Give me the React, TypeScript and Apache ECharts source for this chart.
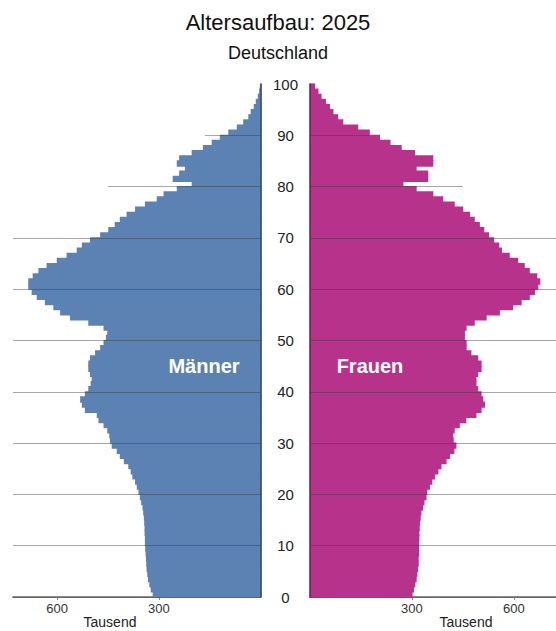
import React, { useEffect, useRef } from "react";
import * as echarts from "echarts";

// Age in years (lower bound of each one-year bar)
const AGES: number[] = Array.from({ length: 100 }, (_, i) => i);

// Population by single year of age, in thousands
const MEN: number[] = [
  318, 324, 328, 332, 334, 336, 337, 338, 339, 340,
  341, 341, 342, 342, 343, 344, 346, 348, 352, 356,
  360, 365, 370, 378, 383, 390, 403, 415, 424, 439,
  444, 446, 452, 463, 478, 483, 518, 527, 532, 518,
  508, 501, 498, 503, 508, 508, 503, 488, 473, 463,
  456, 452, 463, 508, 562, 591, 611, 636, 660, 675,
  685, 685, 672, 655, 631, 601, 572, 542, 527, 503,
  473, 449, 430, 415, 395, 370, 341, 306, 286, 247,
  203, 259, 240, 223, 247, 240, 203, 170, 144, 120,
  95, 70, 51, 36, 29, 20, 14, 8, 4, 2,
];

const WOMEN: number[] = [
  302, 306, 310, 314, 316, 318, 320, 320, 321, 321,
  321, 322, 322, 323, 324, 326, 328, 333, 337, 343,
  345, 353, 360, 368, 378, 387, 402, 412, 425, 431,
  423, 421, 426, 441, 460, 490, 505, 515, 510, 505,
  495, 490, 490, 495, 505, 505, 495, 475, 461, 461,
  456, 456, 461, 485, 520, 559, 598, 623, 647, 662,
  672, 678, 669, 647, 632, 613, 588, 565, 557, 542,
  527, 513, 500, 485, 471, 451, 426, 392, 363, 314,
  275, 348, 348, 314, 363, 363, 309, 270, 237, 206,
  176, 142, 98, 83, 69, 59, 47, 34, 25, 15,
];

// Axis ticks
const AGE_TICKS = { min: 0, max: 100, interval: 10 };
const VALUE_TICK_INTERVAL = 300;
const FULL_GRID_AGES: number[] = [0, 10, 20, 30, 40, 50, 60, 70];

const TITLE = "Altersaufbau: 2025";
const SUBTITLE = "Deutschland";
const UNIT = "Tausend";

const BLUE = "#5b82b2";
const MAGENTA = "#b7338b";
const FONT = "Liberation Sans, Arial, sans-serif";

function barRenderer(color: string) {
  return (params: any, api: any) => {
    const v = api.value(0);
    const age = api.value(1);
    const p0 = api.coord([0, age]);
    const p1 = api.coord([v, age + 1]);
    const x = Math.min(p0[0], p1[0]);
    const y = Math.min(p0[1], p1[1]);
    return {
      type: "rect",
      shape: {
        x,
        y: y - 0.6,
        width: Math.abs(p1[0] - p0[0]),
        height: Math.abs(p1[1] - p0[1]) + 1.2,
      },
      style: { fill: color, stroke: null },
    };
  };
}

const gridLineStyle = { color: "rgba(60,60,60,0.45)", width: 1.2, type: "solid" as const };

function markLines(partial: [number, number][]) {
  return {
    silent: true,
    symbol: ["none", "none"],
    label: { show: false },
    lineStyle: gridLineStyle,
    animation: false,
    data: [
      ...FULL_GRID_AGES.map((a) => ({ yAxis: a })),
      ...partial.map(([age, len]) => [
        { coord: [0, age] },
        { coord: [len, age] },
      ]),
    ],
  };
}

export default function App() {
  const ref = useRef<HTMLDivElement>(null);

  useEffect(() => {
    if (!ref.current) return;
    const chart = echarts.init(ref.current, undefined, { renderer: "svg" });

    const menData = MEN.map((v, i) => [v, AGES[i]]);
    const womenData = WOMEN.map((v, i) => [v, AGES[i]]);

    const xLabel = {
      fontSize: 13,
      color: "#333",
      fontFamily: FONT,
      margin: 5,
      showMinLabel: false,
      showMaxLabel: false,
      formatter: (v: number) =>
        v !== 0 && v % VALUE_TICK_INTERVAL === 0 ? String(v) : "",
    };

    chart.setOption({
      animation: false,
      backgroundColor: "#ffffff",
      title: [
        {
          text: TITLE,
          left: "center",
          top: 6,
          textStyle: { fontSize: 22, fontWeight: "normal", color: "#111", fontFamily: FONT },
        },
        {
          text: SUBTITLE,
          left: "center",
          top: 39,
          textStyle: { fontSize: 18, fontWeight: "normal", color: "#111", fontFamily: FONT },
        },
      ],
      grid: [
        { left: 13, top: 84, width: 247.5, height: 513, containLabel: false },
        { left: 310, top: 84, width: 246, height: 513, containLabel: false },
      ],
      xAxis: [
        {
          gridIndex: 0,
          type: "value",
          inverse: true,
          min: 0,
          max: 730,
          interval: VALUE_TICK_INTERVAL,
          axisLine: { show: true, lineStyle: { color: "#8c8c8c", width: 2 } },
          axisTick: { show: true, length: 3, lineStyle: { color: "#8c8c8c" } },
          axisLabel: xLabel,
          splitLine: { show: false },
        },
        {
          gridIndex: 1,
          type: "value",
          min: 0,
          max: 724,
          interval: VALUE_TICK_INTERVAL,
          axisLine: { show: true, lineStyle: { color: "#8c8c8c", width: 2 } },
          axisTick: { show: true, length: 3, lineStyle: { color: "#8c8c8c" } },
          axisLabel: xLabel,
          splitLine: { show: false },
        },
      ],
      yAxis: [
        {
          gridIndex: 0,
          type: "value",
          position: "right",
          min: AGE_TICKS.min,
          max: AGE_TICKS.max,
          interval: AGE_TICKS.interval,
          axisLine: { show: true, lineStyle: { color: "#243452", width: 1.5 } },
          axisTick: { show: false },
          axisLabel: {
            show: true,
            align: "center",
            margin: 25,
            fontSize: 15,
            color: "#222",
            fontFamily: FONT,
          },
          splitLine: { show: false },
          z: 5,
        },
        {
          gridIndex: 1,
          type: "value",
          position: "left",
          min: AGE_TICKS.min,
          max: AGE_TICKS.max,
          interval: AGE_TICKS.interval,
          axisLine: { show: true, lineStyle: { color: "#6d1d52", width: 1.5 } },
          axisTick: { show: false },
          axisLabel: { show: false },
          splitLine: { show: false },
          z: 5,
        },
      ],
      series: [
        {
          name: "Männer",
          type: "custom",
          xAxisIndex: 0,
          yAxisIndex: 0,
          renderItem: barRenderer(BLUE),
          encode: { x: 0, y: 1 },
          data: menData,
          markLine: markLines([
            [80, 450],
            [90, 164],
          ]),
        },
        {
          name: "Frauen",
          type: "custom",
          xAxisIndex: 1,
          yAxisIndex: 1,
          renderItem: barRenderer(MAGENTA),
          encode: { x: 0, y: 1 },
          data: womenData,
          markLine: markLines([
            [80, 450],
            [90, 176],
          ]),
        },
      ],
      graphic: [
        {
          type: "text",
          x: 204,
          y: 366,
          z: 100,
          style: {
            text: "Männer",
            fill: "#ffffff",
            font: `bold 20px ${FONT}`,
            textAlign: "center",
            textVerticalAlign: "middle",
          },
        },
        {
          type: "text",
          x: 370,
          y: 366,
          z: 100,
          style: {
            text: "Frauen",
            fill: "#ffffff",
            font: `bold 20px ${FONT}`,
            textAlign: "center",
            textVerticalAlign: "middle",
          },
        },
        {
          type: "text",
          x: 110,
          y: 622,
          style: {
            text: UNIT,
            fill: "#222",
            font: `14px ${FONT}`,
            textAlign: "center",
            textVerticalAlign: "middle",
          },
        },
        {
          type: "text",
          x: 466,
          y: 622,
          style: {
            text: UNIT,
            fill: "#222",
            font: `14px ${FONT}`,
            textAlign: "center",
            textVerticalAlign: "middle",
          },
        },
      ],
    });

    return () => chart.dispose();
  }, []);

  return (
    <div
      ref={ref}
      style={{ position: "fixed", left: 0, top: 0, width: 556, height: 631 }}
    />
  );
}
